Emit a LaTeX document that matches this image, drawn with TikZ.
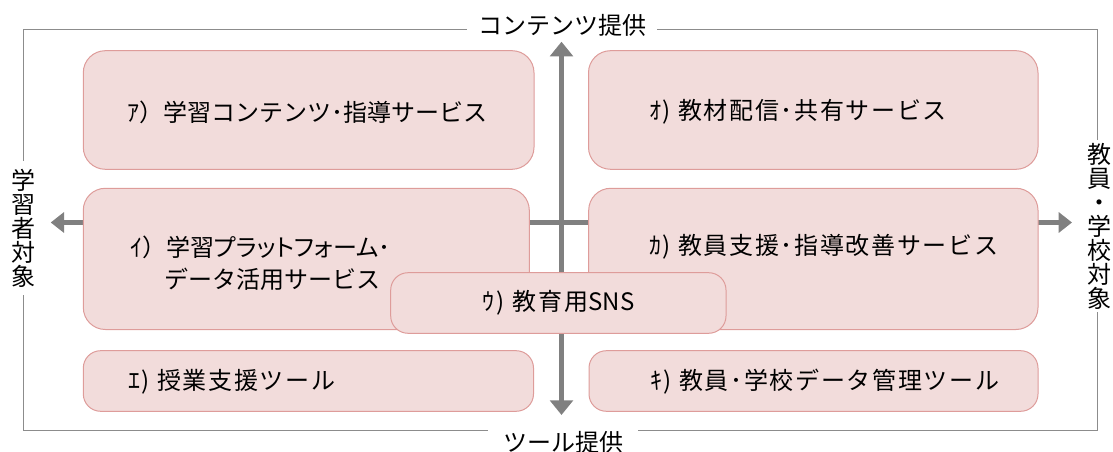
\documentclass[tikz,border=0pt]{standalone}
\usepackage{fontspec}
\setmainfont{Noto Sans CJK JP}
\usetikzlibrary{arrows.meta,fit}

\definecolor{boxfill}{HTML}{F2DCDB}
\definecolor{boxline}{HTML}{DE9C9A}
\definecolor{axisgray}{HTML}{808080}
\definecolor{framegray}{HTML}{8C8C8C}

\begin{document}
\begin{tikzpicture}[x=0.75pt,y=-0.75pt,
  box/.style={draw=boxline, fill=boxfill, line width=0.75pt, inner sep=0pt, rounded corners=16.5pt},
  smallbox/.style={box, rounded corners=13pt},
  lbl/.style={font=\fontsize{18}{18}\selectfont, inner sep=0pt, anchor=west, text=black},
  wide/.style={font=\fontsize{18}{18}\selectfont\addfontfeature{LetterSpace=7}},
  ctr/.style={font=\fontsize{18}{18}\selectfont, inner sep=0pt, text=black},
  vaxis/.style={draw=axisgray, line width=3.75pt, {Triangle[length=11pt,width=17pt]}-{Triangle[length=11pt,width=17pt]}},
  haxis/.style={draw=axisgray, line width=3.25pt, {Triangle[length=10pt,width=15pt]}-{Triangle[length=10pt,width=15pt]}},
  frameline/.style={draw=framegray, line width=0.75pt},
  edgelbl/.style={font=\fontsize{18}{18}\selectfont, fill=white, text=black, inner ysep=2pt},
  vlbl/.style={font=\fontsize{18}{18}\selectfont, fill=white, text=black, align=center, inner xsep=1pt}
]
\useasboundingbox (0,0) rectangle (1113,452);

% outer frame
\coordinate (f1) at (23.3,29.3);
\coordinate (f2) at (1097.3,430.3);
\draw[frameline] (f1) rectangle (f2);

% frame labels
\node[edgelbl, inner xsep=8pt] (top) at (562,25) {コンテンツ提供};
\node[edgelbl, inner xsep=11.5pt] (bottom) at (563,442) {ツール提供};
\node[vlbl, inner ysep=6pt] (left) at (24,228) {学\\習\\者\\対\\象};
\node[vlbl, inner ysep=2pt] (right) at (1099,226) {教\\員\\・\\学\\校\\対\\象};

% axes
\coordinate (L) at (50.7,222.5);
\coordinate (R) at (1072,222.5);
\coordinate (T) at (561.5,41.7);
\coordinate (B) at (561.5,415);
\draw[haxis] (L) -- (R);
\draw[vaxis] (T) -- (B);

% boxes
\node[box, fit={(83.3,50.7) (534,169.3)}] (boxA) {};
\node[box, fit={(588.5,50.7) (1038,169.3)}] (boxO) {};
\node[box, fit={(83.3,188.3) (529.3,329.5)}] (boxI) {};
\node[box, fit={(588.7,188.3) (1038,329.5)}] (boxKa) {};
\node[smallbox, fit={(83.3,350.7) (533.5,411.3)}] (boxE) {};
\node[smallbox, fit={(589,350.7) (1038,411.3)}] (boxKi) {};
\node[smallbox, fit={(390.7,272.7) (726,333.3)}] (boxU) {};

% texts
\node[lbl] (tA) at (127,112) {ｱ）学習コンテンツ･指導サービス};
\node[lbl, wide] (tO) at (649,112) {ｵ) 教材配信･共有サービス};
\node[lbl] (tI1) at (130,247) {ｲ）{\addfontfeature{RawFeature=+palt}学習プラットフォーム･}};
\node[lbl] (tI2) at (164,279) {データ活用サービス};
\node[lbl, wide] (tKa) at (649,247) {ｶ) 教員支援･指導改善サービス};
\node[lbl, wide] (tE) at (128,382) {ｴ) 授業支援ツール};
\node[lbl, wide] (tKi) at (650,382) {ｷ) 教員･学校データ管理ツール};
\node[ctr] (tU) at (558.3,303) {{\addfontfeature{LetterSpace=9}ｳ) 教育用}SNS};
\end{tikzpicture}
\end{document}
